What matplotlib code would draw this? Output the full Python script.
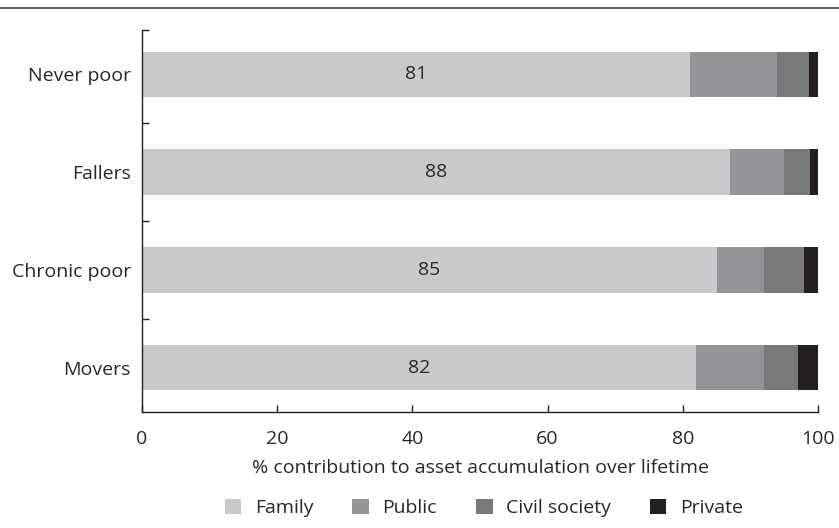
import matplotlib
matplotlib.use("Agg")
import matplotlib.pyplot as plt
from matplotlib.lines import Line2D
from matplotlib.patches import Patch

plt.rcParams['font.family'] = ['Open Sans', 'DejaVu Sans']

categories = ["Never poor", "Fallers", "Chronic poor", "Movers"]
family = [81, 87, 85, 82]
public = [13, 8, 7, 10]
civil_society = [4.7, 3.8, 6, 5]
private = [1.3, 1.2, 2, 3]
bar_labels = ["81", "88", "85", "82"]
series_names = ["Family", "Public", "Civil society", "Private"]
colors = ["#c8c9cb", "#949598", "#78797b", "#231f20"]
xticks = [0, 20, 40, 60, 80, 100]

FS = 14
TXT = '#2a2627'

fig = plt.figure(figsize=(8.39, 5.28), dpi=100)
ax = fig.add_axes([142/839, 1-412/528, (818-142)/839, (412-30)/528])

ypos = list(range(len(categories)))
series = [family, public, civil_society, private]
left = [0]*len(categories)
for vals, name, c in zip(series, series_names, colors):
    ax.barh(ypos, vals, left=left, height=0.46, color=c, label=name, linewidth=0)
    left = [l+v for l, v in zip(left, vals)]

for y, f, lab in zip(ypos, family, bar_labels):
    ax.text(f/2, y, lab, ha='center', va='center', fontsize=FS, color=TXT)

ax.set_xlim(0, 100)
ax.set_ylim(3.45, -0.45)
ax.set_xticks(xticks)
ax.set_xticklabels([str(t) for t in xticks], fontsize=FS, color=TXT)
ax.set_yticks(ypos)
ax.set_yticklabels(categories, fontsize=FS, color=TXT)
ax.tick_params(axis='y', which='major', length=0, pad=8)
ax.set_yticks([-0.45, 0.5, 1.5, 2.5], minor=True)
ax.tick_params(axis='y', which='minor', direction='in', length=5, width=1, color='#231f20')
ax.tick_params(axis='x', direction='in', length=5, width=1, color='#231f20', pad=13)
for s in ['top', 'right']:
    ax.spines[s].set_visible(False)
for s in ['left', 'bottom']:
    ax.spines[s].set_color('#231f20')
    ax.spines[s].set_linewidth(1)
ax.set_xlabel("% contribution to asset accumulation over lifetime", fontsize=FS,
              color=TXT, labelpad=8)

handles = [Patch(facecolor=c, edgecolor='none', label=n) for c, n in zip(colors, series_names)]
fig.legend(handles=handles, loc='center', bbox_to_anchor=(484/839, 1-508/528), ncol=4,
           frameon=False, fontsize=FS, handlelength=0.85, handleheight=0.85,
           columnspacing=2.0, handletextpad=0.7, labelcolor=TXT)

fig.add_artist(Line2D([0, 1], [1-8/528, 1-8/528], color='#444444', linewidth=1.2,
                      transform=fig.transFigure))

fig.savefig("out.png", dpi=100)
